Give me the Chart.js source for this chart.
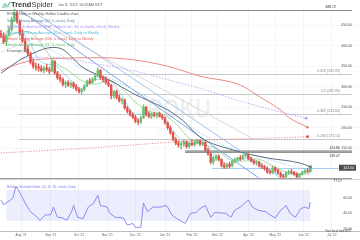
<!DOCTYPE html>
<html>
<head>
<meta charset="utf-8">
<script src="https://cdn.jsdelivr.net/npm/chart.js"></script>
<style>
html, body { margin: 0; padding: 0; background: #fff; }
#wrap { position: relative; width: 360px; height: 240px; overflow: hidden; font-family: "Liberation Sans", Arial, sans-serif; }
#myChart { position: absolute; left: 0; top: 0; }
.t { position: absolute; white-space: nowrap; transform-origin: 0 0; transform: scale(0.5); line-height: 1; }
.wm { position: absolute; white-space: nowrap; font-weight: bold; color: rgba(0,0,0,0.07); line-height: 1; }
</style>
</head>
<body>
<div id="wrap">
  <div class="wm" style="left:147px;top:96px;font-size:27px;transform:scaleX(0.8);transform-origin:0 0;">ROKU</div>
  <div class="wm" style="left:157px;top:125px;font-size:9px;font-weight:normal;">Roku, Inc.</div>
  <canvas id="myChart" width="360" height="240"></canvas>

  <svg style="position:absolute;left:2px;top:1px" width="9" height="9" viewBox="0 0 9 9">
    <polyline points="0.5,7 3,3 5,5.5 8.5,1" fill="none" stroke="#7cc6b0" stroke-width="1.4"/>
    <polyline points="0.5,3 3,7 5,4 8.5,7.5" fill="none" stroke="#b9ddd3" stroke-width="1"/>
  </svg>
  <div style="position:absolute;left:11px;top:0.5px;font-size:7.5px;line-height:1;color:#3a3a3a;white-space:nowrap"><b>Trend</b>Spider</div>
  <div class="t" style="left:58px;top:2.6px;font-size:7.6px;color:#666">Jun 8, 2022 10:05AM EDT</div>

  <div class="t" style="left:7px;top:12.2px;font-size:7px;color:#555">ROKU, Daily vs Weekly, Hollow Candles chart</div>
  <div class="t" style="left:7px;top:18.7px;font-size:7px;color:#5f7fa6">Simple Moving Average (50, 0, close), Daily</div>
  <div class="t" style="left:7px;top:25.2px;font-size:7px;color:#b28cf0">Alphatrends Anchored VWAP (highest vol., 40, no bands, ohlc4), Weekly</div>
  <div class="t" style="left:7px;top:31.2px;font-size:7px;color:#4fb8e0">Exponential Moving Average (10, 0, close), Daily vs Weekly</div>
  <div class="t" style="left:7px;top:37.2px;font-size:7px;color:#e35d5d">Simple Moving Average (200, 0, close), Daily vs Weekly</div>
  <div class="t" style="left:7px;top:43.2px;font-size:7px;color:#62b866">Simple Moving Average (21, 0, close), Daily</div>
  <div class="t" style="left:7px;top:48.7px;font-size:7px;color:#555">Drawings (14)</div>

  <div class="t" style="left:7px;top:184.5px;font-size:6.4px;color:#7878ea">Relative Strength Index (14, 70, 30, close), Daily</div>
  <div class="t" style="left:325px;top:229px;font-size:6px;color:#444">Your local time EDT</div>
</div>

<script>
// eje x: días hábiles contados desde el 12 jul 2021
var monthDays = [15, 37, 58, 79, 100, 122, 142, 161, 184, 204, 225, 246];
var monthLabels = ["Aug '21", "Sep '21", "Oct '21", "Nov '21", "Dec '21", "Jan '22",
  "Feb '22", "Mar '22", "Apr '22", "May '22", "Jun '22", "Jul '22"];

var priceTicks = [150, 200, 250, 300, 350, 400, 450];
var rsiTicks = [20, 40, 60];

// velas (cada 2 sesiones)
var candleDays = [0,2,4,6,8,10,12,14,16,18, 20,22,24,26,28,30,32,34,36,38,
  40,42,44,46,48,50,52,54,56,58, 60,62,64,66,68,70,72,74,76,78,
  80,82,84,86,88,90,92,94,96,98, 100,102,104,106,108,110,112,114,116,118,
  120,122,124,126,128,130,132,134,136,138, 140,142,144,146,148,150,152,154,156,158,
  160,162,164,166,168,170,172,174,176,178, 180,182,184,186,188,190,192,194,196,198,
  200,202,204,206,208,210,212,214,216,218, 220,222,224,226,228,230];
var opens = [430,424,410,426,440,465,480,460,430,412, 392,380,360,350,348,345,340,346,342,338,
  362,334,322,318,306,310,304,308,300,294, 288,292,302,314,310,318,326,340,322,318,
  310,304,278,288,274,266,268,248,240,232, 226,216,214,224,250,232,228,232,230,234,
  228,224,212,200,188,172,162,158,160,164, 154,162,158,164,168,160,164,146,136,116,
  126,130,122,108,104,110,106,118,122,126, 124,132,134,124,118,114,116,106,104,100,
  92,90,102,96,88,82,80,90,92,90, 86,80,86,92,94,92];
var highs = [438,432,428,445,470,490,486,462,440,418, 400,385,368,358,356,352,350,355,348,368,
  364,338,330,322,314,315,312,312,306,298, 296,305,316,320,322,330,346,342,326,324,
  316,306,292,292,280,272,270,252,244,236, 230,222,228,256,252,238,236,238,236,238,
  232,226,214,204,190,176,168,166,170,168, 166,170,168,172,170,168,166,150,138,130,
  134,134,124,114,112,116,120,126,128,132, 134,138,136,128,122,120,118,112,108,104,
  96,106,104,98,92,86,92,96,98,94, 90,88,94,98,100,104];
var lows = [420,405,400,424,436,460,455,425,408,385, 375,355,345,340,338,336,334,338,332,336,
  330,318,312,302,298,300,298,296,290,284, 282,290,300,306,308,314,324,318,312,306,
  300,270,272,270,262,258,245,236,228,222, 212,208,210,222,228,224,222,226,224,226,
  220,208,196,184,168,158,152,148,154,150, 150,156,154,160,156,156,142,132,112,110,
  120,118,104,100,100,102,104,114,118,120, 122,128,122,116,110,108,104,100,96,88,
  86,88,92,86,78,76,78,86,88,84, 78,77,84,88,90,91];
var closes = [424,410,426,440,465,480,460,430,412,392, 380,360,350,348,345,340,346,342,338,362,
  334,322,318,306,310,304,308,300,294,288, 292,302,314,310,318,326,340,322,318,310,
  304,278,288,274,266,268,248,240,232,226, 216,214,224,250,232,228,232,230,234,228,
  224,212,200,188,172,162,158,160,164,154, 162,158,164,168,160,164,146,136,116,126,
  130,122,108,104,110,106,118,122,126,124, 132,134,124,118,114,116,106,104,100,92,
  90,102,96,88,82,80,90,92,90,86, 80,86,92,94,92,102];

// medias móviles
var sma50Days = [0,14,24,38,44,61,81,98,124,135,148,173,198,223,230];
var sma50 = [333,365,382,396,394,347,316,284,243,218,177,145,126,113,104];
var maDays = [0,10,20,30,40,50,60,70,80,90,100,110,120,130,140,150,160,170,180,190,200,210,220,230];
var sma21 = [405,430,435,405,360,340,315,306,316,296,262,240,233,210,174,160,148,122,118,124,110,94,87,87];
var ema10 = [418,450,415,360,352,322,296,318,316,278,232,235,228,184,160,163,130,110,124,116,96,86,86,97];
var ema10wDays = [0,20,40,60,80,100,120,140,160,180,200,220,230];
var ema10w = [385,405,385,345,322,290,255,205,165,140,122,103,98];
var sma200Days = [0,14,24,50,74,98,124,148,178,193,208,215,228];
var sma200 = [340,357,365,370,371,366,350,326,304,274,243,223,201];
var sma200wDays = [0,74,148,223,228];
var sma200w = [138,152,169,177,178];
var vwapDays = [14,37,67,100,130,148,178,200,227];
var vwap = [370,372,358,338,312,296,265,245,223];

// líneas de tendencia (dibujos)
var trendA = [[14, 487], [194, 72]];
var trendB = [[25, 482], [208, 77]];
var trendGray = [[10, 491], [189, 170]];

// niveles horizontales
var levelValues = [488.72, 331.95, 282.90, 233.84, 173.14, 143.86, 139.47, 102.04, 77.17];
var levelLabels = ["488.72", "0.618 (331.95)", "0.5 (282.90)", "0.382 (233.84)", "0.236 (173.14)",
  "143.86", "139.47", "102.04", "77.17"];
var levelStart = [null, 13, 13, 13, 13, 137, 137, 157, null];

// RSI
var rsiDays = [0,2,7,9,11,13,16,18,22,27, 29,33,37,39,42,46,49,53,54,57,
  61,65,69,72,74,79,81,85,91,94, 98,100,104,106,109,113,119,122,124,127,
  131,133,137,141,145,148,152,156,159,167, 171,174,178,182,184,187,191,197,200,204,
  208,212,215,219,223,226,229,230];
var rsiValues = [57,51,57,60,74,70,60,53,42,35, 31,38,38,48,35,34,31,44,50,35,
  33,48,53,63,50,48,40,35,34,25, 27,22,22,53,42,48,48,50,48,38,
  33,31,27,40,41,46,50,35,41,40, 35,44,48,54,57,48,44,42,38,34,
  44,50,40,35,46,48,46,54];
var rsiBand = [70, 30];

// estilos
var levelStyles = [
  { color: "#8c8c8c", width: 1, text: "#333", side: "above", right: 336 },
  { color: "#c6cacf", width: 1, text: "#8a8a8a", side: "above", right: 340 },
  { color: "#c6cacf", width: 1, text: "#8a8a8a", side: "above", right: 340 },
  { color: "#c6cacf", width: 1, text: "#8a8a8a", side: "above", right: 340 },
  { color: "#c6cacf", width: 1, text: "#8a8a8a", side: "above", right: 340 },
  { color: "#a3a3a3", width: 2.5, text: "#333", side: "above", right: 340 },
  { color: "#8a8a8a", width: 0.8, text: "#333", side: "below", right: 340 },
  { color: "#a9cdf3", width: 1, text: "#fff", side: "box", right: 355 },
  { color: "#a0a0a0", width: 1, text: "#333", side: "below", right: 342 }
];

function pts(days, vals) {
  return days.map(function (d, i) { return { x: d, y: vals[i] }; });
}
function pairs(p) {
  return p.map(function (a) { return { x: a[0], y: a[1] }; });
}
function lastMark(color, style) {
  return {
    pointRadius: function (c) { return c.dataIndex === c.dataset.data.length - 1 ? 1.8 : 0; },
    pointStyle: style,
    pointBackgroundColor: color,
    pointBorderWidth: 0
  };
}

var candleColors = candleDays.map(function (d, i) {
  return closes[i] >= opens[i] ? "#6cc070" : "#e0524c";
});

var levelsPlugin = {
  id: "levels",
  beforeDatasetsDraw: function (chart) {
    var ctx = chart.ctx, x = chart.scales.x, y = chart.scales.y, r = chart.scales.yRsi;
    ctx.save();
    ctx.strokeStyle = "#d0d0d0";
    ctx.lineWidth = 1;
    ctx.beginPath();
    ctx.moveTo(0, Math.round(r.top) + 0.5);
    ctx.lineTo(360, Math.round(r.top) + 0.5);
    ctx.stroke();
    levelValues.forEach(function (v, i) {
      var st = levelStyles[i];
      var py = Math.round(y.getPixelForValue(v)) + 0.5;
      var x0 = levelStart[i] === null ? 0 : x.getPixelForValue(levelStart[i]);
      ctx.strokeStyle = st.color;
      ctx.lineWidth = st.width;
      ctx.beginPath();
      ctx.moveTo(x0, py);
      ctx.lineTo(352, py);
      ctx.stroke();
    });
    ctx.restore();
  },
  afterDatasetsDraw: function (chart) {
    var ctx = chart.ctx, y = chart.scales.y;
    ctx.save();
    ctx.font = "3.5px 'Liberation Sans', Arial, sans-serif";
    ctx.textAlign = "right";
    levelValues.forEach(function (v, i) {
      var st = levelStyles[i];
      var py = y.getPixelForValue(v);
      if (st.side === "box") {
        ctx.fillStyle = "#4d4d4d";
        ctx.fillRect(339, py - 3, 17, 6);
        ctx.fillStyle = st.text;
        ctx.textBaseline = "middle";
        ctx.fillText(levelLabels[i], st.right - 1, py + 0.2);
      } else if (st.side === "above") {
        ctx.fillStyle = st.text;
        ctx.textBaseline = "bottom";
        ctx.fillText(levelLabels[i], st.right, py - 0.8);
      } else {
        ctx.fillStyle = st.text;
        ctx.textBaseline = "top";
        ctx.fillText(levelLabels[i], st.right, py + 1.8);
      }
    });
    ctx.restore();
  }
};

Chart.defaults.font.family = "'Liberation Sans', Arial, sans-serif";

var canvas = document.getElementById("myChart");
var ctx = canvas.getContext("2d");
var myChart = new Chart(ctx, {
  type: "line",
  data: {
    datasets: [
      {
        type: "bar", label: "body", yAxisID: "y",
        data: candleDays.map(function (d, i) { return { x: d, y: [opens[i], closes[i]] }; }),
        backgroundColor: candleColors, barThickness: 1.8, grouped: false
      },
      {
        type: "bar", label: "wick", yAxisID: "y",
        data: candleDays.map(function (d, i) { return { x: d, y: [lows[i], highs[i]] }; }),
        backgroundColor: candleColors, barThickness: 0.7, grouped: false
      },
      Object.assign({ label: "SMA 50", yAxisID: "y", data: pts(sma50Days, sma50),
        borderColor: "#5d6c82", borderWidth: 1, cubicInterpolationMode: "monotone" }, lastMark("#5d6c82", "circle")),
      Object.assign({ label: "EMA 10", yAxisID: "y", data: pts(maDays, ema10),
        borderColor: "#7fd0ee", borderWidth: 0.8, cubicInterpolationMode: "monotone" }, lastMark("#5ab8ea", "rect")),
      { label: "SMA 21", yAxisID: "y", data: pts(maDays, sma21),
        borderColor: "#8ed08e", borderWidth: 0.8, pointRadius: 0, cubicInterpolationMode: "monotone" },
      { label: "EMA 10 W", yAxisID: "y", data: pts(ema10wDays, ema10w),
        borderColor: "#8fcdec", borderWidth: 0.8, borderDash: [1.5, 1.5], pointRadius: 0, cubicInterpolationMode: "monotone" },
      Object.assign({ label: "SMA 200", yAxisID: "y", data: pts(sma200Days, sma200),
        borderColor: "#ec8a82", borderWidth: 1, cubicInterpolationMode: "monotone" }, lastMark("#e35d5d", "triangle")),
      Object.assign({ label: "SMA 200 W", yAxisID: "y", data: pts(sma200wDays, sma200w),
        borderColor: "#ec6e6e", borderWidth: 0.8, borderDash: [1.2, 1.5], cubicInterpolationMode: "monotone" }, lastMark("#e04848", "rect")),
      Object.assign({ label: "VWAP", yAxisID: "y", data: pts(vwapDays, vwap),
        borderColor: "#c39cf4", borderWidth: 0.9, borderDash: [1.5, 1.5], cubicInterpolationMode: "monotone" }, lastMark("#a56ff0", "triangle")),
      { label: "trend A", yAxisID: "y", data: pairs(trendA), borderColor: "#79a8e2", borderWidth: 1, pointRadius: 0 },
      { label: "trend B", yAxisID: "y", data: pairs(trendB), borderColor: "#92bdee", borderWidth: 0.9, pointRadius: 0 },
      { label: "trend gray", yAxisID: "y", data: pairs(trendGray), borderColor: "#cfcfcf", borderWidth: 0.8, pointRadius: 0 },
      { label: "RSI", yAxisID: "yRsi", data: pts(rsiDays, rsiValues),
        borderColor: "#7f7ff2", borderWidth: 0.9, pointRadius: 0 },
      { label: "RSI 70", yAxisID: "yRsi",
        data: [{ x: 4, y: rsiBand[0] }, { x: 230, y: rsiBand[0] }],
        borderWidth: 0, pointRadius: 0, fill: "+1", backgroundColor: "rgba(150,160,245,0.18)" },
      { label: "RSI 30", yAxisID: "yRsi",
        data: [{ x: 4, y: rsiBand[1] }, { x: 230, y: rsiBand[1] }],
        borderWidth: 0, pointRadius: 0 }
    ]
  },
  options: {
    responsive: false,
    animation: false,
    devicePixelRatio: 1,
    layout: { autoPadding: false, padding: { top: 9, left: 0, right: 0, bottom: 0 } },
    plugins: { legend: { display: false }, tooltip: { enabled: false } },
    scales: {
      x: {
        type: "linear", min: -0.7, max: 267, offset: false,
        afterBuildTicks: function (s) { s.ticks = monthDays.map(function (v) { return { value: v }; }); },
        afterFit: function (s) { s.height = 9; },
        ticks: {
          autoSkip: false, maxRotation: 0, padding: 2, color: "#666",
          font: { size: 3.3 },
          callback: function (v, i) { return monthLabels[i]; }
        },
        grid: { offset: false, color: "#ececec", lineWidth: 0.6, drawTicks: false },
        border: { display: true, color: "#bdbdbd" }
      },
      y: {
        type: "linear", position: "right", stack: "panes", stackWeight: 170,
        min: 74.5, max: 490,
        afterBuildTicks: function (s) { s.ticks = priceTicks.map(function (v) { return { value: v }; }); },
        afterFit: function (s) { s.width = 0; },
        ticks: {
          mirror: true, padding: -8, color: "#555", font: { size: 3.5 },
          callback: function (v) { return v.toFixed(2); }
        },
        grid: { color: "#f3f3f3", lineWidth: 0.6, drawTicks: false },
        border: { display: false }
      },
      yRsi: {
        type: "linear", axis: "y", position: "right", stack: "panes", stackWeight: 52,
        min: 17.3, max: 84,
        afterBuildTicks: function (s) { s.ticks = rsiTicks.map(function (v) { return { value: v }; }); },
        afterFit: function (s) { s.width = 0; },
        ticks: {
          mirror: true, padding: -8, color: "#555", font: { size: 3.5 },
          callback: function (v) { return v.toFixed(2); }
        },
        grid: { display: false },
        border: { display: false }
      }
    }
  },
  plugins: [levelsPlugin]
});
</script>
</body>
</html>
